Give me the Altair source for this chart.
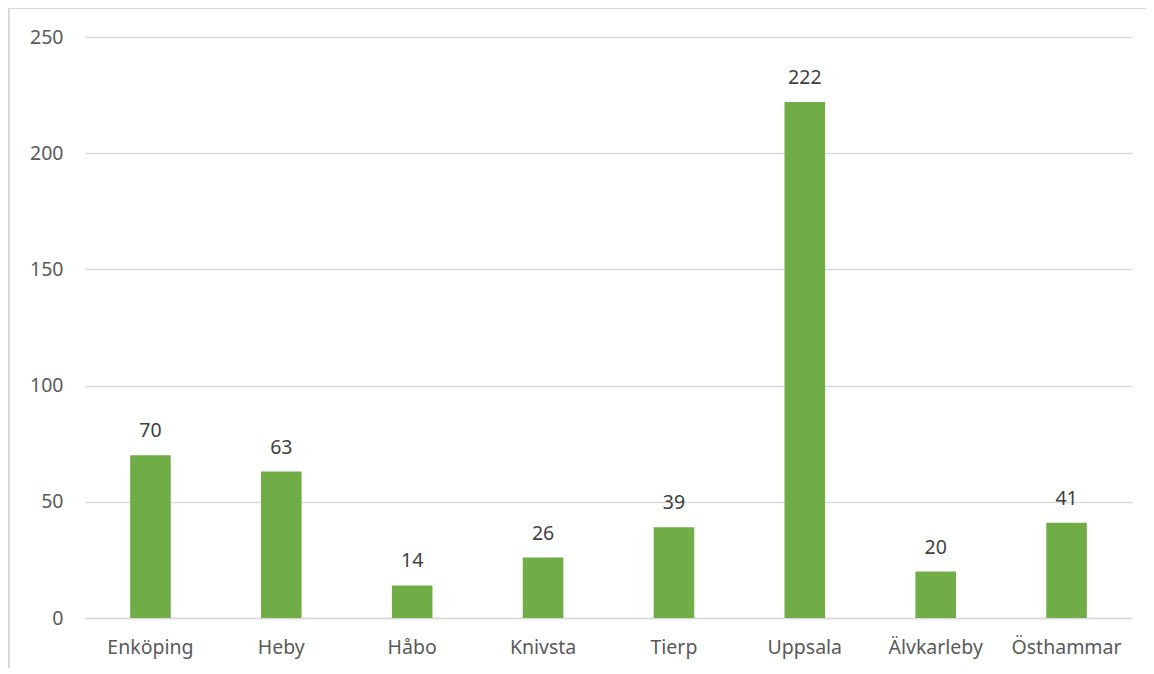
import altair as alt
import pandas as pd

categories = ["Enköping", "Heby", "Håbo", "Knivsta", "Tierp", "Uppsala", "Älvkarleby", "Östhammar"]
values = [70, 63, 14, 26, 39, 222, 20, 41]

df = pd.DataFrame({"kommun": categories, "antal": values})

W, H = 1047, 581
FONT = "Noto Sans"

x = alt.X("kommun:N", sort=categories, title=None,
          scale=alt.Scale(paddingInner=0.69, paddingOuter=0.345),
          axis=alt.Axis(labelAngle=0, labelFontSize=19.5, labelColor="#595959", labelFont=FONT,
                        labelPadding=20, ticks=False, grid=False, domainColor="#D9D9D9", domainWidth=1.5))
y = alt.Y("antal:Q", title=None,
          scale=alt.Scale(domain=[0, 250], nice=False),
          axis=alt.Axis(values=[0, 50, 100, 150, 200, 250], labelFontSize=19.5, labelColor="#595959",
                        labelFont=FONT, labelPadding=22, ticks=False, domain=False,
                        gridColor="#D9D9D9", gridWidth=1.5))

base = alt.Chart(df)
bars = base.mark_bar(color="#70AD47").encode(x=x, y=y)
text = base.mark_text(baseline="bottom", dy=-14, fontSize=19.5, font=FONT, color="#404040").encode(
    x=alt.X("kommun:N", sort=categories), y="antal:Q", text="antal:Q")

frame_v = base.mark_rule(color="#D9D9D9", strokeWidth=2).encode(
    x=alt.value(-76), y=alt.value(-29), y2=alt.value(H + 80))
frame_h = base.mark_rule(color="#D9D9D9", strokeWidth=2).encode(
    x=alt.value(-76), x2=alt.value(W + 40), y=alt.value(-29))

chart = alt.layer(bars, text, frame_v, frame_h).properties(
    width=W, height=H,
    background="white",
    autosize=alt.AutoSizeParams(type="none"),
    padding={"left": 77, "top": 29, "right": 14, "bottom": 50},
).configure_view(stroke=None)

chart.save("out.html", embed_options={"renderer": "svg", "actions": False})
